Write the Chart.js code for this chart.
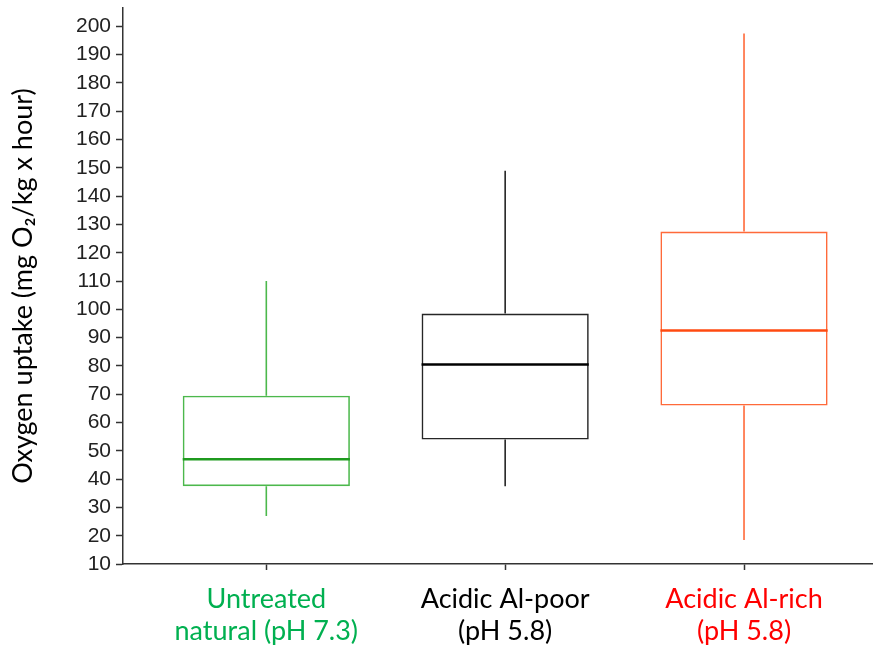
<!DOCTYPE html>
<html>
<head>
<meta charset="utf-8">
<script src="https://cdn.jsdelivr.net/npm/chart.js@4.4.1/dist/chart.umd.min.js"></script>
<style>
  html, body { margin: 0; padding: 0; background: #fff; }
  #wrap { width: 873px; height: 652px; }
</style>
</head>
<body>
<div id="wrap"><canvas id="oxy"></canvas></div>
<script>
// treatment groups and box summaries (oxygen uptake)
const groups = [["Untreated", "natural (pH 7.3)"], ["Acidic Al-poor", "(pH 5.8)"], ["Acidic Al-rich", "(pH 5.8)"]];
const whiskerLow = [27, 37.5, 18.5];
const q1 = [37.5, 54, 66];
const median = [47, 80.5, 92.5];
const q3 = [69.5, 98.5, 127.5];
const whiskerHigh = [110, 149, 197.5];
const yTicks = [10, 20, 30, 40, 50, 60, 70, 80, 90, 100, 110, 120, 130, 140, 150, 160, 170, 180, 190, 200];

const boxColors = ["#4cb84c", "#262626", "#ff6a3a"];
const medianColors = ["#1f9a1f", "#000000", "#ff4a10"];
const labelColors = ["#00b050", "#000000", "#ff0000"];

// whiskers and median lines, placed with the bar elements and y scale
const boxExtras = {
  id: "boxExtras",
  afterDatasetsDraw(chart) {
    const ctx = chart.ctx;
    const y = chart.scales.y;
    const bars = chart.getDatasetMeta(0).data;
    bars.forEach((bar, i) => {
      const half = bar.width / 2;
      ctx.save();
      ctx.strokeStyle = boxColors[i];
      ctx.lineWidth = 1.6;
      ctx.beginPath();
      ctx.moveTo(bar.x, y.getPixelForValue(q3[i]));
      ctx.lineTo(bar.x, y.getPixelForValue(whiskerHigh[i]));
      ctx.moveTo(bar.x, y.getPixelForValue(q1[i]));
      ctx.lineTo(bar.x, y.getPixelForValue(whiskerLow[i]));
      ctx.stroke();
      ctx.strokeStyle = medianColors[i];
      ctx.lineWidth = 2.6;
      ctx.beginPath();
      ctx.moveTo(bar.x - half, y.getPixelForValue(median[i]));
      ctx.lineTo(bar.x + half, y.getPixelForValue(median[i]));
      ctx.stroke();
      ctx.restore();
    });
  }
};

new Chart(document.getElementById("oxy"), {
  type: "bar",
  data: {
    datasets: [{
      data: groups.map((g, i) => ({ x: i + 1, y: [q1[i], q3[i]] })),
      backgroundColor: "rgba(255,255,255,0)",
      borderColor: boxColors,
      borderWidth: 1.6,
      borderSkipped: false,
      barPercentage: 0.7,
      categoryPercentage: 1
    }]
  },
  options: {
    responsive: true,
    maintainAspectRatio: false,
    animation: false,
    layout: { padding: { top: 8, right: 0, bottom: 0, left: 0 } },
    plugins: { legend: { display: false }, tooltip: { enabled: false } },
    scales: {
      x: {
        type: "linear",
        offset: false,
        min: 0.4,
        max: 3.54,
        afterBuildTicks: s => { s.ticks = groups.map((g, i) => ({ value: i + 1 })); },
        afterFit: s => { s.height = 88; },
        border: { display: true, color: "#333", width: 1.5 },
        grid: { offset: false, drawOnChartArea: false, tickLength: 6, tickColor: "#333", tickWidth: 1.5 },
        ticks: {
          callback: v => groups[v - 1],
          color: c => labelColors[c.index],
          font: { family: "Lato", size: 27, lineHeight: 1.2 },
          padding: 13,
          maxRotation: 0,
          autoSkip: false
        }
      },
      y: {
        min: 10,
        max: 206.5,
        afterBuildTicks: s => { s.ticks = yTicks.map(v => ({ value: v })); },
        afterFit: s => { s.width = 123; s.paddingTop = 0; s.paddingBottom = 0; },
        border: { display: true, color: "#333", width: 1.5 },
        grid: { drawOnChartArea: false, tickLength: 7, tickColor: "#333", tickWidth: 1.5 },
        ticks: {
          color: "#222",
          font: { family: "Liberation Sans", size: 21 },
          padding: 5
        },
        title: {
          display: true,
          text: "Oxygen uptake (mg O\u2082/kg x hour)",
          color: "#000",
          font: { family: "Lato", size: 27 },
          padding: { top: 7, bottom: 0 }
        }
      }
    }
  },
  plugins: [boxExtras]
});
</script>
</body>
</html>
